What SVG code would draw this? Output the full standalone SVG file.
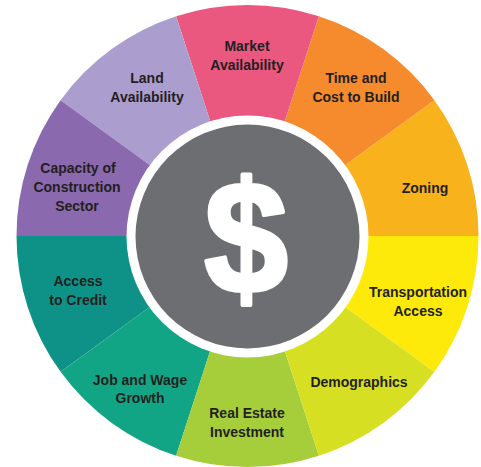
<svg xmlns="http://www.w3.org/2000/svg" width="481" height="467" viewBox="0 0 481 467">
  <style>
    .lbl { font-family: "Liberation Sans", Arial, sans-serif; font-weight: bold; font-size: 14px; fill: #231f20; text-anchor: middle; }
    .dollar { font-family: "Liberation Sans", Arial, sans-serif; font-weight: bold; font-size: 160px; fill: #ffffff; stroke: #ffffff; stroke-width: 4; stroke-linejoin: round; text-anchor: middle; }
  </style>
  <rect width="481" height="467" fill="#ffffff"/>

  <!-- wheel of ten 36-degree wedges around the hub -->
  <g id="wheel" transform="translate(247.5,236)">
    <g id="zoning">
      <path d="M0,0 L231,0 A231,231 0 0 0 186.88,-135.78 Z" fill="#f8b21c"/>
    </g>
    <g id="time-and-cost">
      <path d="M0,0 L186.88,-135.78 A231,231 0 0 0 71.38,-219.69 Z" fill="#f58b2d"/>
    </g>
    <g id="market-availability">
      <path d="M0,0 L71.38,-219.69 A231,231 0 0 0 -71.38,-219.69 Z" fill="#ea5880"/>
    </g>
    <g id="land-availability">
      <path d="M0,0 L-71.38,-219.69 A231,231 0 0 0 -186.88,-135.78 Z" fill="#ac9dcf"/>
    </g>
    <g id="construction-capacity">
      <path d="M0,0 L-186.88,-135.78 A231,231 0 0 0 -231,0 Z" fill="#8a69af"/>
    </g>
    <g id="access-to-credit">
      <path d="M0,0 L-231,0 A231,231 0 0 0 -186.88,135.78 Z" fill="#0e9288"/>
    </g>
    <g id="job-wage-growth">
      <path d="M0,0 L-186.88,135.78 A231,231 0 0 0 -71.38,219.69 Z" fill="#12a585"/>
    </g>
    <g id="real-estate-investment">
      <path d="M0,0 L-71.38,219.69 A231,231 0 0 0 71.38,219.69 Z" fill="#a6ce3a"/>
    </g>
    <g id="demographics">
      <path d="M0,0 L71.38,219.69 A231,231 0 0 0 186.88,135.78 Z" fill="#d7df23"/>
    </g>
    <g id="transportation-access">
      <path d="M0,0 L186.88,135.78 A231,231 0 0 0 231,0 Z" fill="#fdea0b"/>
    </g>
  </g>

  <!-- central hub -->
  <g id="hub">
    <circle cx="247.5" cy="236.5" r="121" fill="#ffffff"/>
    <circle cx="247.5" cy="236.5" r="112" fill="#6d6e71"/>
    <text class="dollar" transform="translate(246,293) scale(0.94,1)" x="0" y="0">$</text>
  </g>

  <!-- wedge labels -->
  <g id="labels">
    <text class="lbl" x="247" y="51">Market</text>
    <text class="lbl" x="247" y="70">Availability</text>
    <text class="lbl" x="147" y="83">Land</text>
    <text class="lbl" x="147" y="102">Availability</text>
    <text class="lbl" x="356" y="83">Time and</text>
    <text class="lbl" x="356" y="102">Cost to Build</text>
    <text class="lbl" x="425" y="193">Zoning</text>
    <text class="lbl" x="78" y="173">Capacity of</text>
    <text class="lbl" x="77" y="192">Construction</text>
    <text class="lbl" x="77" y="211">Sector</text>
    <text class="lbl" x="78" y="286">Access</text>
    <text class="lbl" x="78" y="305">to Credit</text>
    <text class="lbl" x="418" y="297">Transportation</text>
    <text class="lbl" x="418" y="316">Access</text>
    <text class="lbl" x="140" y="385">Job and Wage</text>
    <text class="lbl" x="140" y="403">Growth</text>
    <text class="lbl" x="359" y="387">Demographics</text>
    <text class="lbl" x="247" y="418">Real Estate</text>
    <text class="lbl" x="247" y="437">Investment</text>
  </g>
</svg>
